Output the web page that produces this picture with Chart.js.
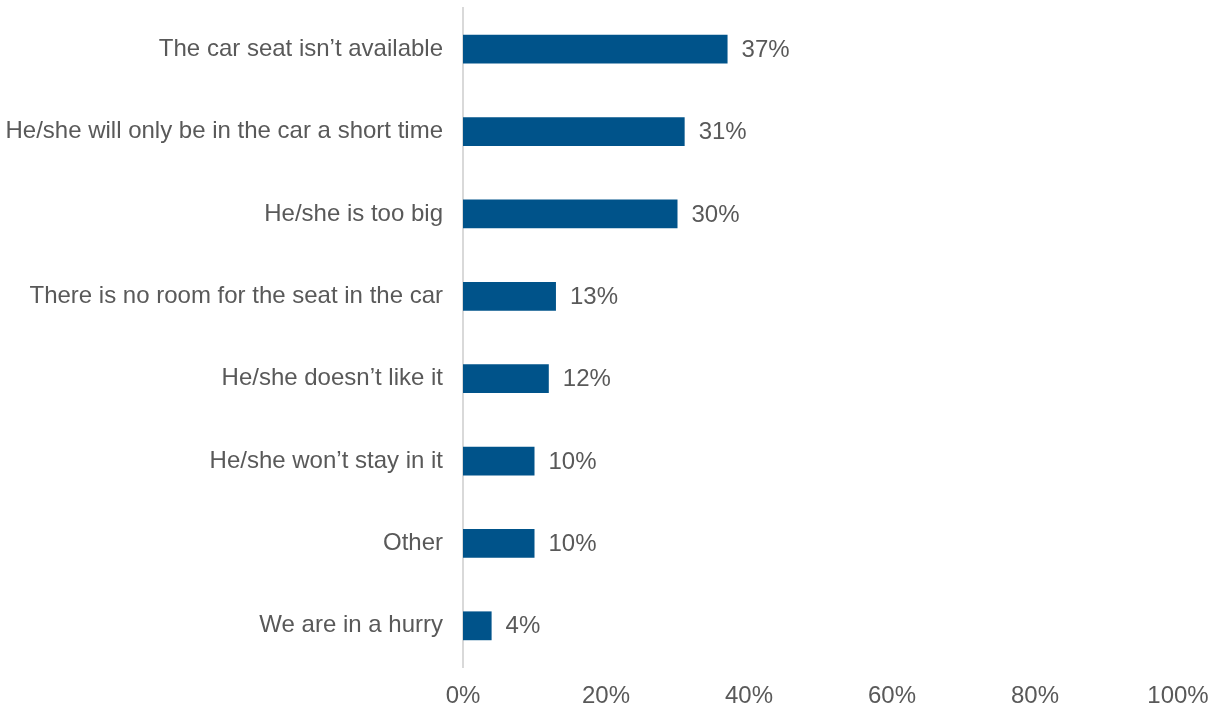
<!DOCTYPE html>
<html lang="en">
<head>
  <meta charset="UTF-8" />
  <title>Reasons child not in car seat</title>
  <script src="https://cdn.jsdelivr.net/npm/chart.js"></script>
  <style>
    html, body {
      margin: 0;
      padding: 0;
      background: #ffffff;
    }
    .wrap {
      width: 1214px;
      height: 708px;
      position: relative;
    }
  </style>
</head>
<body>
<div class="wrap">
  <canvas id="reasonsChart"></canvas>
</div>

<script>
// Reasons given, share of respondents (%)
const reasons = [
  "The car seat isn\u2019t available",
  "He/she will only be in the car a short time",
  "He/she is too big",
  "There is no room for the seat in the car",
  "He/she doesn\u2019t like it",
  "He/she won\u2019t stay in it",
  "Other",
  "We are in a hurry"
];
const shares = [37, 31, 30, 13, 12, 10, 10, 4];
const xTicks = [0, 20, 40, 60, 80, 100];

const textColor = '#595959';
const barColor = '#00538A';
const fontFamily = '"Liberation Sans", Arial, sans-serif';

// small inline plugin: value label to the right of each bar
const valueLabels = {
  id: 'valueLabels',
  afterDatasetsDraw(chart) {
    const ctx = chart.ctx;
    const meta = chart.getDatasetMeta(0);
    ctx.save();
    ctx.font = '24px ' + fontFamily;
    ctx.fillStyle = textColor;
    ctx.textAlign = 'left';
    ctx.textBaseline = 'middle';
    meta.data.forEach((bar, i) => {
      ctx.fillText(shares[i] + '%', bar.x + 14, bar.y + 1);
    });
    ctx.restore();
  }
};

const ctx = document.getElementById('reasonsChart').getContext('2d');
new Chart(ctx, {
  type: 'bar',
  data: {
    labels: reasons,
    datasets: [{
      data: shares,
      backgroundColor: barColor,
      borderWidth: 0,
      barPercentage: 0.35,
      categoryPercentage: 1.0
    }]
  },
  options: {
    indexAxis: 'y',
    responsive: true,
    maintainAspectRatio: false,
    animation: false,
    layout: {
      padding: { top: 8, right: 36, bottom: 0, left: 0 }
    },
    plugins: {
      legend: { display: false },
      tooltip: { enabled: false }
    },
    scales: {
      x: {
        min: 0,
        max: 100,
        afterBuildTicks(axis) {
          axis.ticks = xTicks.map(v => ({ value: v }));
        },
        afterFit(axis) {
          axis.height = 41;
          axis.paddingLeft = 0;
          axis.paddingRight = 0;
        },
        grid: { display: false, drawTicks: false },
        border: { display: false },
        ticks: {
          color: textColor,
          padding: 15,
          maxRotation: 0,
          font: { family: fontFamily, size: 24 },
          callback: v => v + '%'
        }
      },
      y: {
        grid: { display: false, drawTicks: false },
        border: { display: true, color: '#D9D9D9', width: 2 },
        afterFit(axis) {
          axis.width = 463;
          // no extra room above/below for the category labels
          axis.paddingTop = 0;
          axis.paddingBottom = 0;
        },
        ticks: {
          color: textColor,
          padding: 20,
          font: { family: fontFamily, size: 24 }
        }
      }
    }
  },
  plugins: [valueLabels]
});
</script>
</body>
</html>
